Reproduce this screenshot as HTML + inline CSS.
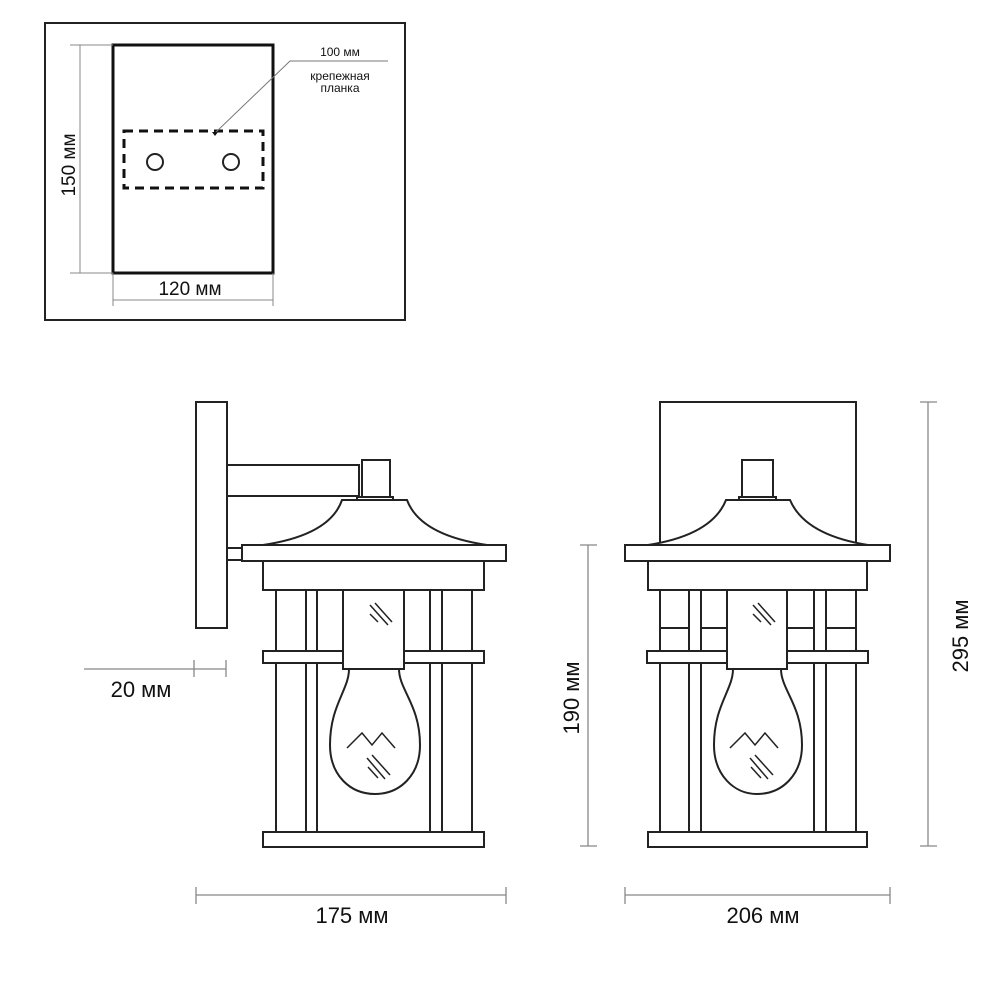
<!DOCTYPE html>
<html><head><meta charset="utf-8"><style>
html,body{margin:0;padding:0;background:#fff;}
svg{display:block;}
text{font-family:"Liberation Sans","DejaVu Sans",sans-serif;fill:#111;}
</style></head><body>
<svg width="1000" height="1000" viewBox="0 0 1000 1000" xmlns="http://www.w3.org/2000/svg">
<g fill="none" stroke="#222" stroke-width="2">
  <rect x="45" y="23" width="360" height="297" stroke-width="2"/>
  <rect x="113" y="45" width="160" height="228" stroke="#111" stroke-width="3"/>
  <rect x="124" y="131" width="139" height="57" stroke="#111" stroke-width="3" stroke-dasharray="9,6"/>
  <circle cx="155" cy="162" r="8"/>
  <circle cx="231" cy="162" r="8"/>
  <polyline points="215,133 290,61 388,61" stroke="#777" stroke-width="1"/>
  <polygon points="212,132 218,132 215,136" fill="#111" stroke="none"/>
  <g stroke="#888" stroke-width="1">
    <line x1="80" y1="45" x2="80" y2="273"/>
    <line x1="70" y1="45" x2="113" y2="45"/>
    <line x1="70" y1="273" x2="113" y2="273"/>
    <line x1="113" y1="300" x2="273" y2="300"/>
    <line x1="113" y1="273" x2="113" y2="306"/>
    <line x1="273" y1="273" x2="273" y2="306"/>
  </g>
</g>
<text x="340" y="56" font-size="12" text-anchor="middle">100 мм</text>
<text x="340" y="80" font-size="12" text-anchor="middle">крепежная</text>
<text x="340" y="92" font-size="12" text-anchor="middle">планка</text>
<text transform="translate(75,165) rotate(-90)" font-size="19" text-anchor="middle">150 мм</text>
<text x="190" y="295" font-size="19" text-anchor="middle">120 мм</text>

<!-- side lantern -->
<g fill="#fff" stroke="#222" stroke-width="2">
  <rect x="196" y="402" width="31" height="226"/>
  <rect x="227" y="465" width="132" height="31"/>
  <rect x="227" y="548" width="15" height="12"/>
  <rect x="362" y="460" width="28" height="38"/>
  <rect x="357" y="497" width="36" height="4"/>
  <path d="M263,545 Q330,535 342,500 L407,500 Q420,535 487,545 Z"/>
  <rect x="242" y="545" width="264" height="16"/>
  <rect x="263" y="561" width="221" height="29"/>
  <line x1="276" y1="590" x2="276" y2="832"/>
  <line x1="472" y1="590" x2="472" y2="832"/>
  <rect x="306" y="590" width="11" height="242"/>
  <rect x="430" y="590" width="12" height="242"/>
  <rect x="263" y="651" width="221" height="12"/>
  <rect x="263" y="832" width="221" height="15"/>
  <rect x="343" y="590" width="61" height="79"/>
  <path d="M349,669 C349,690 330,705 330,745 C330,775 350,794 375,794 C400,794 420,775 420,745 C420,705 399,690 399,669 Z"/>
  <g fill="none" stroke-width="1.5">
    <polyline points="347,748 362,733 372,745 382,733 395,748"/>
    <line x1="367" y1="758" x2="385" y2="779"/>
    <line x1="372" y1="755" x2="390" y2="775"/>
    <line x1="368" y1="767" x2="378" y2="778"/>
    <line x1="370" y1="605" x2="388" y2="625"/>
    <line x1="375" y1="603" x2="392" y2="622"/>
    <line x1="370" y1="614" x2="378" y2="622"/>
  </g>
</g>

<!-- front lantern -->
<g fill="#fff" stroke="#222" stroke-width="2">
  <rect x="660" y="402" width="196" height="160"/>
  <rect x="742" y="460" width="31" height="38"/>
  <rect x="739" y="497" width="37" height="4"/>
  <path d="M648,545 Q712,535 726,500 L790,500 Q805,535 868,545 Z"/>
  <rect x="625" y="545" width="265" height="16"/>
  <rect x="648" y="561" width="219" height="29"/>
  <line x1="660" y1="590" x2="660" y2="832"/>
  <line x1="856" y1="590" x2="856" y2="832"/>
  <line x1="660" y1="628" x2="689" y2="628"/>
  <line x1="701" y1="628" x2="727" y2="628"/>
  <line x1="787" y1="628" x2="814" y2="628"/>
  <line x1="826" y1="628" x2="856" y2="628"/>
  <rect x="689" y="590" width="12" height="242"/>
  <rect x="814" y="590" width="12" height="242"/>
  <rect x="647" y="651" width="221" height="12"/>
  <rect x="648" y="832" width="219" height="15"/>
  <rect x="727" y="590" width="60" height="79"/>
  <path d="M733,669 C733,690 714,705 714,745 C714,775 734,794 757,794 C782,794 802,775 802,745 C802,705 781,690 781,669 Z"/>
  <g fill="none" stroke-width="1.5">
    <polyline points="730,748 745,733 755,745 765,733 778,748"/>
    <line x1="750" y1="758" x2="768" y2="779"/>
    <line x1="755" y1="755" x2="773" y2="775"/>
    <line x1="751" y1="767" x2="761" y2="778"/>
    <line x1="753" y1="605" x2="771" y2="625"/>
    <line x1="758" y1="603" x2="775" y2="622"/>
    <line x1="753" y1="614" x2="761" y2="622"/>
  </g>
</g>

<g stroke="#888" stroke-width="1.3" fill="none">
  <line x1="84" y1="669" x2="226" y2="669"/>
  <line x1="194" y1="660" x2="194" y2="677"/>
  <line x1="226" y1="660" x2="226" y2="677"/>
  <line x1="196" y1="895" x2="506" y2="895"/>
  <line x1="196" y1="887" x2="196" y2="904"/>
  <line x1="506" y1="887" x2="506" y2="904"/>
  <line x1="625" y1="895" x2="890" y2="895"/>
  <line x1="625" y1="887" x2="625" y2="904"/>
  <line x1="890" y1="887" x2="890" y2="904"/>
  <line x1="588" y1="545" x2="588" y2="846"/>
  <line x1="580" y1="545" x2="597" y2="545"/>
  <line x1="580" y1="846" x2="597" y2="846"/>
  <line x1="928" y1="402" x2="928" y2="846"/>
  <line x1="920" y1="402" x2="937" y2="402"/>
  <line x1="920" y1="846" x2="937" y2="846"/>
</g>
<text x="141" y="697" font-size="22" text-anchor="middle">20 мм</text>
<text x="352" y="923" font-size="22" text-anchor="middle">175 мм</text>
<text x="763" y="923" font-size="22" text-anchor="middle">206 мм</text>
<text transform="translate(579,698) rotate(-90)" font-size="22" text-anchor="middle">190 мм</text>
<text transform="translate(968,636) rotate(-90)" font-size="22" text-anchor="middle">295 мм</text>
</svg>
</body></html>
